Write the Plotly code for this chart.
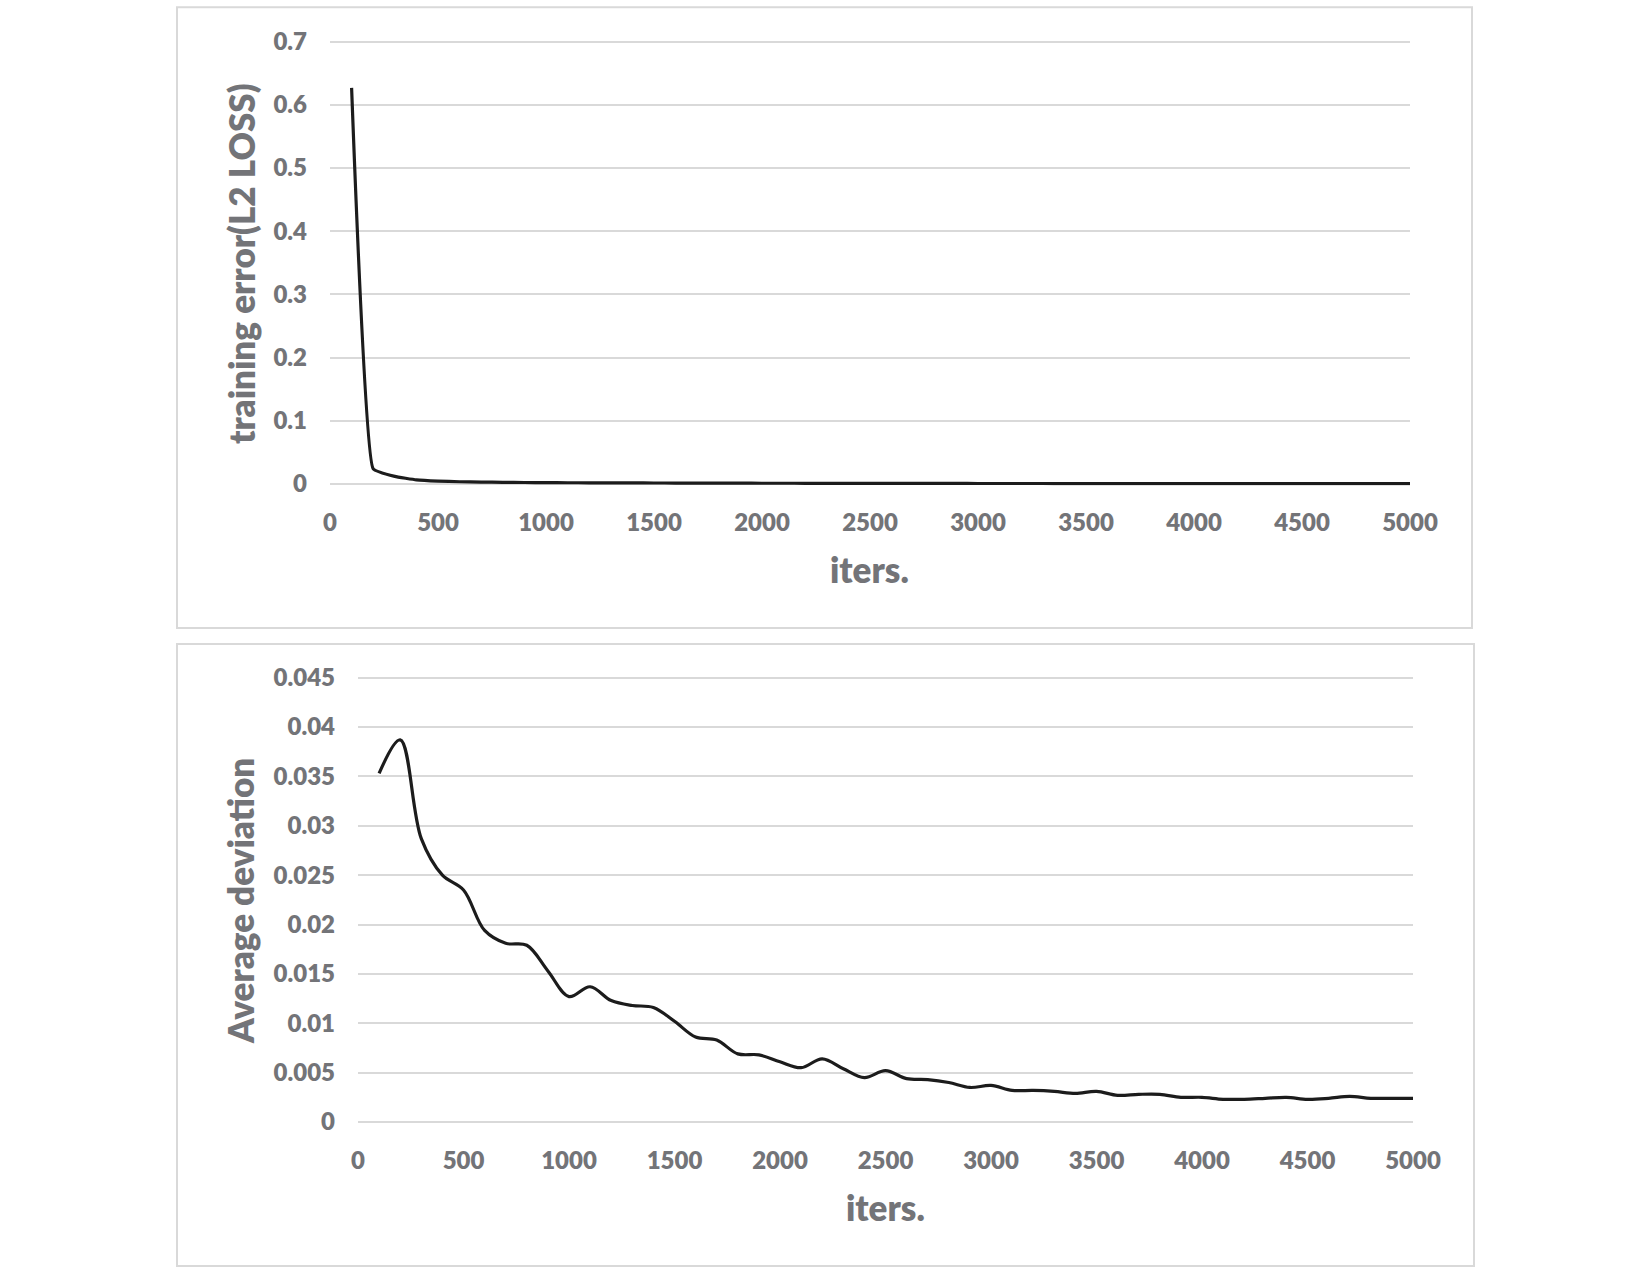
import plotly.graph_objects as go

# ---------------- data ----------------
iters = list(range(100, 5001, 100))

train_loss = [
    0.627, 0.024, 0.012, 0.0065, 0.0045, 0.0036, 0.0031, 0.0027, 0.0024, 0.0022,
    0.0020, 0.0019, 0.0018, 0.0017, 0.0016, 0.0015, 0.0014, 0.0013, 0.0013, 0.0012,
    0.0012, 0.0011, 0.0011, 0.0010, 0.0010, 0.0010, 0.0009, 0.0009, 0.0009, 0.0008,
    0.0008, 0.0008, 0.0008, 0.0007, 0.0007, 0.0007, 0.0007, 0.0006, 0.0006, 0.0006,
    0.0006, 0.0006, 0.0006, 0.0005, 0.0005, 0.0005, 0.0005, 0.0005, 0.0005, 0.0005,
]

avg_dev = [
    0.0353, 0.0387, 0.0287, 0.0250, 0.0235, 0.0194, 0.0181, 0.0179, 0.0153, 0.0127,
    0.0137, 0.0123, 0.0118, 0.0116, 0.0102, 0.0086, 0.0083, 0.0069, 0.0068, 0.0061,
    0.0055, 0.0064, 0.0054, 0.0045, 0.0052, 0.0044, 0.0043, 0.0040, 0.0035, 0.0037,
    0.0032, 0.0032, 0.0031, 0.0029, 0.0031, 0.0027, 0.0028, 0.0028, 0.0025, 0.0025,
    0.0023, 0.0023, 0.0024, 0.0025, 0.0023, 0.0024, 0.0026, 0.0024, 0.0024, 0.0024,
]

x_ticks = [0, 500, 1000, 1500, 2000, 2500, 3000, 3500, 4000, 4500, 5000]
top_y_ticks = [0, 0.1, 0.2, 0.3, 0.4, 0.5, 0.6, 0.7]
top_y_text = ["0", "0.1", "0.2", "0.3", "0.4", "0.5", "0.6", "0.7"]
bot_y_ticks = [0, 0.005, 0.01, 0.015, 0.02, 0.025, 0.03, 0.035, 0.04, 0.045]
bot_y_text = ["0", "0.005", "0.01", "0.015", "0.02", "0.025", "0.03", "0.035", "0.04", "0.045"]

top_ytitle = "training error(L2 LOSS)"
bot_ytitle = "Average deviation"
xtitle = "iters."

# ---------------- style ----------------
W, H = 1650, 1275
TXT = "#737478"
GRID = "#d9d9d9"
LINE = "#1c1c1c"
FONT = "Lato"
PAD = 1.5  # px of padding so edge gridlines are drawn


def px_x(v):
    return v / W


def px_y(v):
    return 1 - v / H


fig = go.Figure()
fig.add_trace(go.Scatter(x=iters, y=train_loss, mode="lines",
                         line=dict(color=LINE, width=3.2, shape="spline", smoothing=0.3),
                         xaxis="x", yaxis="y", showlegend=False))
fig.add_trace(go.Scatter(x=iters, y=avg_dev, mode="lines",
                         line=dict(color=LINE, width=3.2, shape="spline", smoothing=1.0),
                         xaxis="x2", yaxis="y2", showlegend=False))

tickfont = dict(family=FONT, size=24, color=TXT, weight=800)

common_x = dict(range=[0, 5000], tickvals=x_ticks, ticktext=[str(t) for t in x_ticks],
                showgrid=False, zeroline=False, showline=False, ticks="",
                tickfont=tickfont, ticklabelstandoff=20, fixedrange=True,
                automargin=False)
common_y = dict(showgrid=True, gridcolor=GRID, gridwidth=2, zeroline=False,
                showline=False, ticks="", tickfont=tickfont, ticklabelstandoff=22,
                fixedrange=True, automargin=False)

# top plot: 0 at y=484px, 0.7 at y=41.7px
t_top, t_bot = 41.7, 484.0
t_eps = PAD * 0.7 / (t_bot - t_top)
# bottom plot: 0 at y=1122px, 0.045 at y=677.7px
b_top, b_bot = 677.7, 1122.0
b_eps = PAD * 0.045 / (b_bot - b_top)

fig.update_layout(
    template="none",
    width=W, height=H,
    margin=dict(l=0, r=0, t=0, b=0, autoexpand=False),
    paper_bgcolor="white", plot_bgcolor="white",
    xaxis=dict(domain=[px_x(330), px_x(1410)], anchor="y", **common_x),
    yaxis=dict(domain=[px_y(t_bot + PAD), px_y(t_top - PAD)], anchor="x",
               range=[-t_eps, 0.7 + t_eps],
               tickvals=top_y_ticks, ticktext=top_y_text, **common_y),
    xaxis2=dict(domain=[px_x(358), px_x(1413)], anchor="y2", **common_x),
    yaxis2=dict(domain=[px_y(b_bot + PAD), px_y(b_top - PAD)], anchor="x2",
                range=[-b_eps, 0.045 + b_eps],
                tickvals=bot_y_ticks, ticktext=bot_y_text, **common_y),
)

titlefont = dict(family=FONT, size=35, color=TXT, weight=800)

annotations = [
    dict(text=xtitle, x=px_x(870), y=px_y(569), xref="paper", yref="paper",
         showarrow=False, font=titlefont, xanchor="center", yanchor="middle"),
    dict(text=xtitle, x=px_x(885), y=px_y(1207), xref="paper", yref="paper",
         showarrow=False, font=titlefont, xanchor="center", yanchor="middle"),
    dict(text=top_ytitle, x=px_x(241), y=px_y(264), xref="paper", yref="paper",
         showarrow=False, font=titlefont, textangle=-90, xanchor="center", yanchor="middle"),
    dict(text=bot_ytitle, x=px_x(240), y=px_y(901), xref="paper", yref="paper",
         showarrow=False, font=titlefont, textangle=-90, xanchor="center", yanchor="middle"),
]
fig.update_layout(annotations=annotations)

shapes = [
    dict(type="rect", xref="paper", yref="paper",
         x0=px_x(177), x1=px_x(1472), y0=px_y(628), y1=px_y(7.3),
         line=dict(color=GRID, width=2), fillcolor="rgba(0,0,0,0)", layer="below"),
    dict(type="rect", xref="paper", yref="paper",
         x0=px_x(177), x1=px_x(1474), y0=px_y(1266), y1=px_y(644),
         line=dict(color=GRID, width=2), fillcolor="rgba(0,0,0,0)", layer="below"),
]
fig.update_layout(shapes=shapes)

fig.write_html("out.html")
